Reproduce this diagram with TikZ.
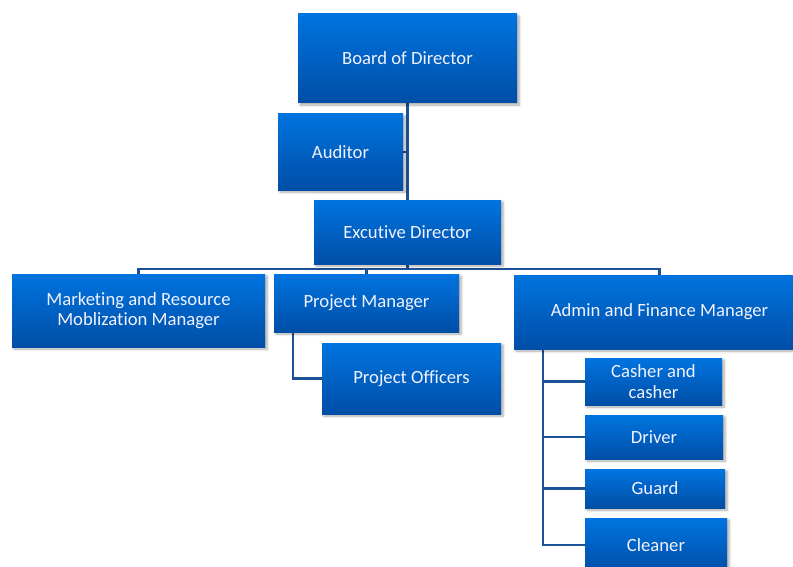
\documentclass[tikz,border=0pt]{standalone}
\usepackage{fontspec}
\setmainfont[Ligatures={NoCommon}]{Carlito}
\usetikzlibrary{shadows.blur,backgrounds}
\definecolor{boxtop}{RGB}{0,116,224}
\definecolor{boxbot}{RGB}{0,78,166}
\definecolor{linkblue}{RGB}{28,82,150}
\tikzset{
  orgbox/.style={rectangle, top color=boxtop, bottom color=boxbot, draw=none,
    text=white!95!blue, font=\fontsize{14}{15.5}\selectfont, align=center, inner sep=2pt,
    blur shadow={shadow xshift=1.5pt, shadow yshift=-1.5pt, shadow blur steps=5, shadow opacity=35}},
  link/.style={draw=linkblue, line width=1.6pt},
  linkshade/.style={draw=black!28, line width=1.6pt}
}
% place a box by centre, width and height in pixel units
\newcommand{\orgnode}[6]{%
  \node[orgbox, minimum width=#4*0.75pt, minimum height=#5*0.75pt] (#1) at (#2,#3) {#6};}
\begin{document}
\begin{tikzpicture}[x=0.75pt,y=-0.75pt]
\useasboundingbox (0,0) rectangle (793,567);
\clip (0,0) rectangle (793,567);

\orgnode{board}{407.5}{58.5}{219}{89}{Board of Director}
\orgnode{aud}{340.5}{152}{125}{76}{Auditor}
\orgnode{exec}{407.5}{232}{187}{64}{Excutive Director}
\orgnode{mkt}{138.5}{310.5}{253}{73}{Marketing and Resource\\Moblization Manager}
\orgnode{pm}{366.5}{303}{185}{58}{Project Manager}
\orgnode{adm}{659.5}{312}{291}{74}{Admin and Finance Manager}
\orgnode{po}{411.5}{378.5}{179}{71}{Project Officers}
\orgnode{cash}{653.5}{381.5}{137}{47}{Casher and\\casher}
\orgnode{drv}{654}{437}{138}{44}{Driver}
\orgnode{grd}{655}{488.5}{140}{39}{Guard}
\orgnode{cln}{656}{545}{142}{54}{Cleaner}

\coordinate (bus) at (0,269);
\coordinate (pmx) at (293,0);
\coordinate (admx) at (543,0);

\newcommand{\orglinks}[1]{%
  \draw[#1] (board.south) -- (exec.north);
  \draw[#1] (aud.east) -- (aud.east -| board.south);
  \draw[#1] (exec.south) -- (exec.south |- bus);
  \draw[#1] (mkt.north) -- (mkt.north |- bus) -- (adm.north |- bus) -- (adm.north);
  \draw[#1] (pm.north) -- (pm.north |- bus);
  \draw[#1] (pmx |- pm.south) -- (pmx |- po.west) -- (po.west);
  \draw[#1] (admx |- adm.south) -- (admx |- cln.west) -- (cln.west);
  \draw[#1] (admx |- cash.west) -- (cash.west);
  \draw[#1] (admx |- drv.west) -- (drv.west);
  \draw[#1] (admx |- grd.west) -- (grd.west);}

\begin{scope}[on background layer]
  \begin{scope}[shift={(1,2)}]
    \orglinks{linkshade}
  \end{scope}
  \orglinks{link}
\end{scope}
\end{tikzpicture}
\end{document}
